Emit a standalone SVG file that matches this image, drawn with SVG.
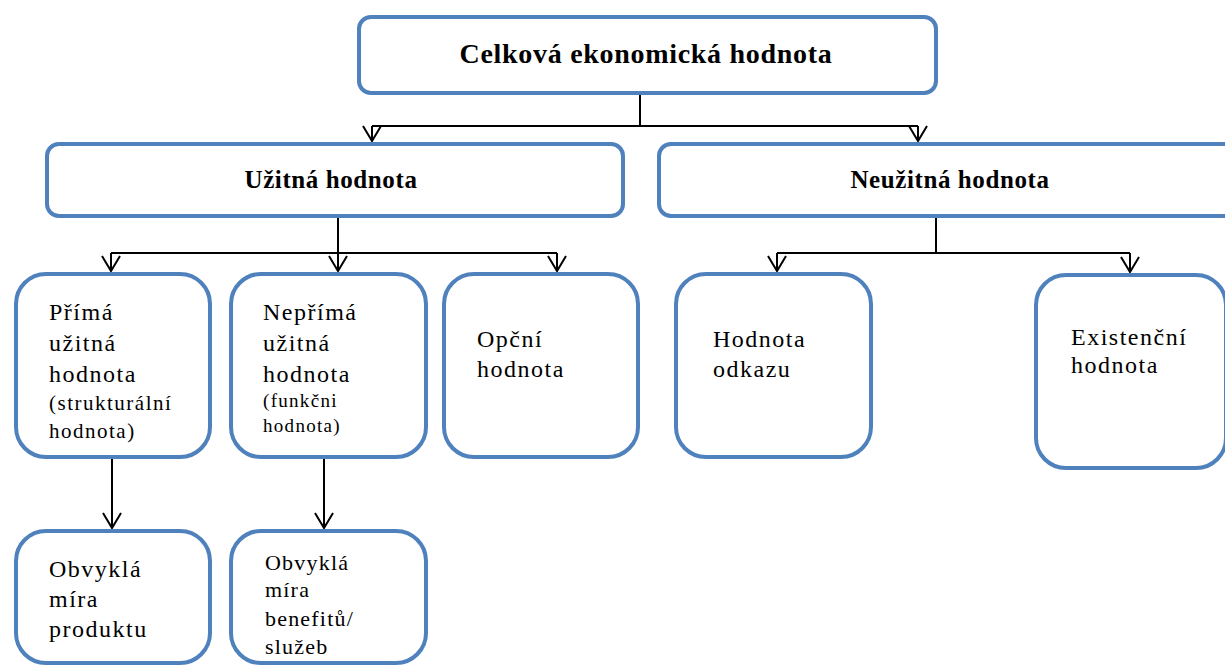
<svg xmlns="http://www.w3.org/2000/svg" width="1225" height="668" viewBox="0 0 1225 668">
  <style>
    .box { fill: #ffffff; stroke: #4F81BD; stroke-width: 4; }
    .link { fill: none; stroke: #000000; stroke-width: 2; }
    .head { fill: none; stroke: #000000; stroke-width: 2; }
    text { font-family: "Liberation Serif", "Times New Roman", serif; fill: #000000; }
    .title { font-size: 28px; font-weight: bold; letter-spacing: 0.7px; text-anchor: middle; }
    .sub { font-size: 25px; font-weight: bold; letter-spacing: 0.6px; text-anchor: middle; }
    .lbl { font-size: 24px; letter-spacing: 1.5px; }
    .lbl-s { font-size: 21px; letter-spacing: 1.5px; }
    .lbl-xs { font-size: 19px; letter-spacing: 1.3px; }
    .lbl-m { font-size: 22px; letter-spacing: 1.2px; }
  </style>
  <defs>
    <marker id="arrow" markerUnits="userSpaceOnUse" viewBox="-17 -10 19 20" refX="0" refY="0" markerWidth="19" markerHeight="20" orient="auto">
      <path class="head" d="M -15 -9 L 0 0 L -15 9"/>
    </marker>
  </defs>

  <!-- connectors -->
  <g id="connectors">
    <path class="link" d="M 640 95 V 126"/>
    <path class="link" d="M 372 126 H 918"/>
    <path class="link" d="M 372 126 V 141" marker-end="url(#arrow)"/>
    <path class="link" d="M 918 126 V 141" marker-end="url(#arrow)"/>

    <path class="link" d="M 338 218 V 253"/>
    <path class="link" d="M 111 253 H 557"/>
    <path class="link" d="M 111 253 V 271" marker-end="url(#arrow)"/>
    <path class="link" d="M 338 253 V 271" marker-end="url(#arrow)"/>
    <path class="link" d="M 557 253 V 271" marker-end="url(#arrow)"/>

    <path class="link" d="M 936 218 V 253"/>
    <path class="link" d="M 777 253 H 1130"/>
    <path class="link" d="M 777 253 V 271" marker-end="url(#arrow)"/>
    <path class="link" d="M 1130 253 V 272" marker-end="url(#arrow)"/>

    <path class="link" d="M 112 459 V 528" marker-end="url(#arrow)"/>
    <path class="link" d="M 324 459 V 528" marker-end="url(#arrow)"/>
  </g>

  <g id="celkova">
    <rect class="box" x="359" y="17" width="577" height="76" rx="12"/>
    <text class="title" x="646" y="63">Celková ekonomická hodnota</text>
  </g>

  <g id="uzitna">
    <rect class="box" x="47" y="144" width="576" height="72" rx="12"/>
    <text class="sub" x="331" y="188">Užitná hodnota</text>
  </g>

  <g id="neuzitna">
    <rect class="box" x="659" y="144" width="600" height="72" rx="12"/>
    <text class="sub" x="950" y="188">Neužitná hodnota</text>
  </g>

  <g id="prima">
    <rect class="box" x="16" y="274" width="194" height="183" rx="30"/>
    <text class="lbl" x="49" y="320">Přímá</text>
    <text class="lbl" x="49" y="351">užitná</text>
    <text class="lbl" x="49" y="382">hodnota</text>
    <text class="lbl-s" x="49" y="410">(strukturální</text>
    <text class="lbl-s" x="49" y="438">hodnota)</text>
  </g>

  <g id="neprima">
    <rect class="box" x="231" y="274" width="195" height="183" rx="30"/>
    <text class="lbl" x="263" y="320">Nepřímá</text>
    <text class="lbl" x="263" y="351">užitná</text>
    <text class="lbl" x="263" y="382">hodnota</text>
    <text class="lbl-xs" x="263" y="407">(funkčni</text>
    <text class="lbl-xs" x="263" y="432">hodnota)</text>
  </g>

  <g id="opcni">
    <rect class="box" x="444" y="274" width="194" height="183" rx="30"/>
    <text class="lbl" x="477" y="347">Opční</text>
    <text class="lbl" x="477" y="377">hodnota</text>
  </g>

  <g id="odkaz">
    <rect class="box" x="676" y="274" width="195" height="183" rx="30"/>
    <text class="lbl" x="713" y="347">Hodnota</text>
    <text class="lbl" x="713" y="377">odkazu</text>
  </g>

  <g id="existencni">
    <rect class="box" x="1036" y="275" width="190" height="193" rx="30"/>
    <text class="lbl" x="1071" y="345">Existenční</text>
    <text class="lbl" x="1071" y="373">hodnota</text>
  </g>

  <g id="produkt">
    <rect class="box" x="16" y="531" width="194" height="132" rx="30"/>
    <text class="lbl" x="49" y="577">Obvyklá</text>
    <text class="lbl" x="49" y="607">míra</text>
    <text class="lbl" x="49" y="637">produktu</text>
  </g>

  <g id="benefity">
    <rect class="box" x="231" y="531" width="195" height="132" rx="30"/>
    <text class="lbl-m" x="265" y="570">Obvyklá</text>
    <text class="lbl-m" x="265" y="597">míra</text>
    <text class="lbl-m" x="265" y="626">benefitů/</text>
    <text class="lbl-m" x="265" y="654">služeb</text>
  </g>
</svg>
